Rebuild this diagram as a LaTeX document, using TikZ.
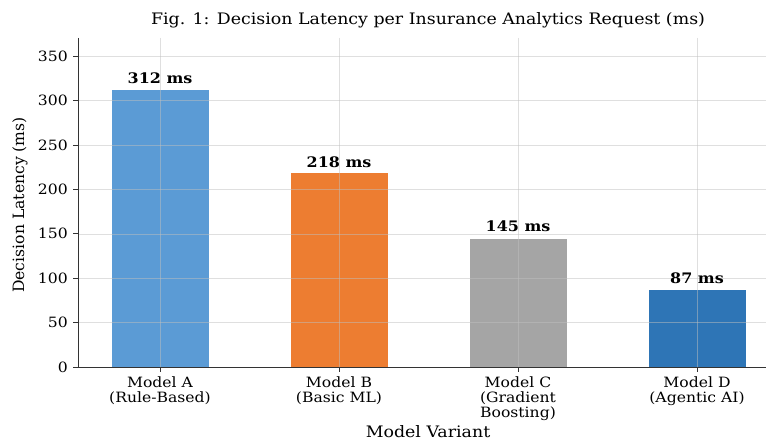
\documentclass[tikz,border=0pt]{standalone}
\usepackage{fontspec}
\setmainfont{DejaVu Serif}[FakeStretch=1.1]
\newfontfamily\plainserif{DejaVu Serif}
\definecolor{colA}{HTML}{5B9BD5}
\definecolor{colB}{HTML}{ED7D31}
\definecolor{colC}{HTML}{A5A5A5}
\definecolor{colD}{HTML}{2E75B6}
\definecolor{spine}{HTML}{333333}
\tikzset{
  gridline/.style={draw=black!25, line width=0.6pt, opacity=0.5},
  spineline/.style={draw=spine, line width=1pt},
  tickline/.style={draw=spine, line width=0.8pt},
  ticklabel/.style={font=\fontsize{14.2}{15}\selectfont, inner sep=0pt},
  catlabel/.style={font=\fontsize{14.2}{14.7}\selectfont, align=center, inner sep=0pt, anchor=north},
  vallabel/.style={font=\fontsize{14.5}{15}\selectfont\bfseries, inner sep=0pt, anchor=base},
  axlabel/.style={font=\fontsize{15.8}{17}\selectfont, inner sep=0pt},
}
\begin{document}
\begin{tikzpicture}[x=1pt,y=-1pt]
\useasboundingbox (0,0) rectangle (766,441);
% bars
\fill[colA] (111.5,367) rectangle (208.5,89.9);
\fill[colB] (290.5,367) rectangle (387.5,173.4);
\fill[colC] (469.5,367) rectangle (566.5,238.8);
\fill[colD] (648.5,367) rectangle (745.5,290.3);
% grid
\foreach \yy in {322.6,278.2,233.8,189.4,145.0,100.6,56.2}
  \draw[gridline] (78,\yy) -- (766,\yy);
\foreach \xx in {160,339,518,697}
  \draw[gridline] (\xx,38) -- (\xx,367);
% spines
\coordinate (o) at (78,367);
\coordinate (top) at (78,38);
\coordinate (right) at (766,367);
\draw[spineline] (top) -- (o) -- (right);
% y ticks
\foreach \yy/\lab in {367/0,322.6/50,278.2/100,233.8/150,189.4/200,145.0/250,100.6/300,56.2/350}{
  \draw[tickline] (73,\yy) -- (78,\yy);
  \node[ticklabel, anchor=east] (yt\lab) at (68,\yy) {\lab};
}
% x ticks
\foreach \xx in {160,339,518,697}
  \draw[tickline] (\xx,367) -- (\xx,372);
% category labels
\node[catlabel] (ca) at (160,377) {Model A\\(Rule-Based)};
\node[catlabel] (cb) at (339,377) {Model B\\(Basic ML)};
\node[catlabel] (cc) at (518,377) {Model C\\(Gradient\\Boosting)};
\node[catlabel] (cd) at (697,377) {Model D\\(Agentic AI)};
% value labels
\node[vallabel] (va) at (160,83.5) {312 ms};
\node[vallabel] (vb) at (339,167.2) {218 ms};
\node[vallabel] (vc) at (518,231.8) {145 ms};
\node[vallabel] (vd) at (697,283) {87 ms};
% axis labels and title
\node[axlabel, anchor=base] (xl) at (428,437) {Model Variant};
\node[axlabel, font=\plainserif\fontsize{15.6}{17}\selectfont, rotate=90] (yl) at (20,205) {Decision Latency (ms)};
\node[axlabel] (title) at (428,20) {Fig. 1: Decision Latency per Insurance Analytics Request (ms)};
\end{tikzpicture}
\end{document}
